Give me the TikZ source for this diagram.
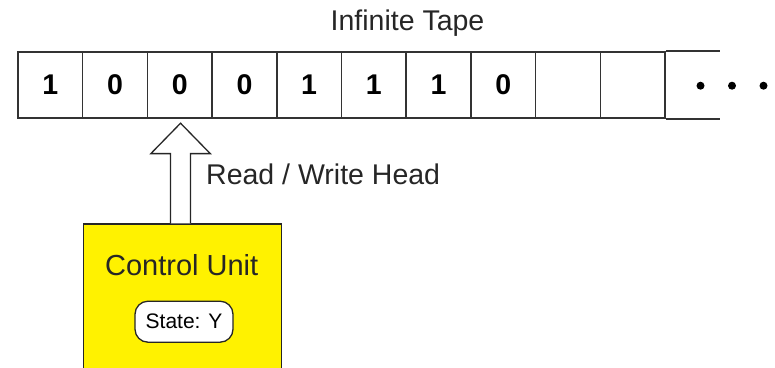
\documentclass[tikz,border=0pt]{standalone}
\usepackage{fontspec}
\setmainfont{Liberation Sans}
\usetikzlibrary{calc}
\begin{document}
\begin{tikzpicture}[x=1pt,y=-1pt,
  cell/.style={draw=black!80, line width=1.5pt, minimum width=64.7pt, minimum height=66.3pt,
    inner sep=0pt, font=\bfseries\fontsize{28.5}{28.5}\selectfont},
  label/.style={inner sep=0pt, font=\fontsize{28.5}{28.5}\selectfont, text=black!85},
  unit/.style={draw=black!85, line width=1.3pt, fill=yellow, minimum width=198pt,
    minimum height=160pt, inner sep=0pt, anchor=north west},
  statebox/.style={draw=black!85, line width=1.3pt, fill=white, rounded corners=13pt,
    minimum width=98pt, minimum height=41pt, inner sep=0pt,
    font=\fontsize{21}{21}\selectfont},
  headarrow/.style={draw=black!85, line width=1.3pt, fill=white, line join=miter}]
\useasboundingbox (0,0) rectangle (775,367);

% tape cells
\foreach \i/\d in {0/1,1/0,2/0,3/0,4/1,5/1,6/1,7/0,8/{},9/{}}
  \node[cell] (c\i) at ({50.35+64.7*\i},85) {\d};
\draw[black!80, line width=1.5pt] (c9.north east) -- ++(54,0);
\draw[black!80, line width=1.5pt] (c9.south east) -- ++(54,0);
\foreach \x in {700.5,732,763.5}
  \fill (\x,85.7) circle (4pt);

\node[label, anchor=base] (tape) at (407.5,30) {Infinite Tape};

% control unit
\node[unit] (cu) at (82.7,223.3) {};
\node[label, anchor=base, font=\fontsize{29}{29}\selectfont] (cutext) at (181.7,275) {Control Unit};
\node[statebox] (st) at (184,321.7) {State: Y};

% read/write head arrow
\coordinate (tip) at ($(c2.south)+(0.8,4.3)$);
\coordinate (sl) at ($(tip)+(-10,0)$);
\coordinate (sr) at ($(tip)+(10,0)$);
\draw[headarrow] (sl |- cu.north) -- ($(tip)+(-10,30.4)$) -- ($(tip)+(-29.7,30.4)$)
  -- (tip) -- ($(tip)+(29.7,30.4)$) -- ($(tip)+(10,30.4)$) -- (sr |- cu.north);
\node[label, anchor=base west] (rw) at (206,184.3) {Read / Write Head};
\end{tikzpicture}
\end{document}
